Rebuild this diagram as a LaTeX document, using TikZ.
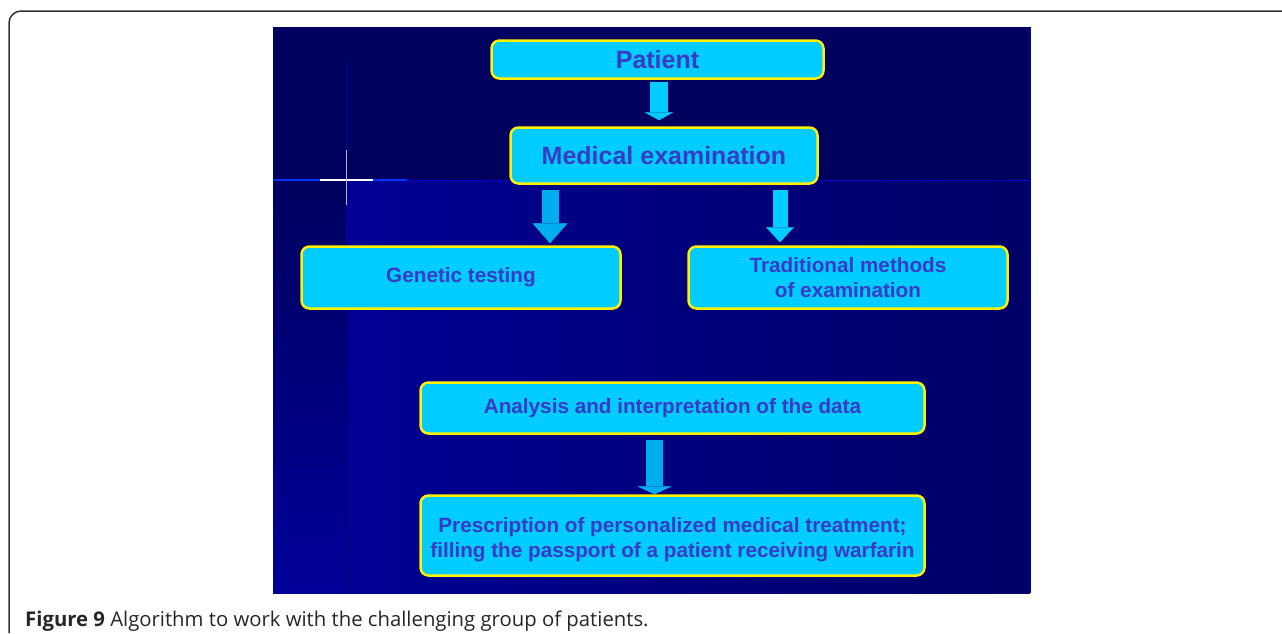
\documentclass[tikz,border=0pt]{standalone}
\usepackage{fontspec}
\setmainfont{Liberation Sans}
\newfontfamily\capfont{Open Sans}
\usepackage{tikz}
\usetikzlibrary{arrows.meta}

\definecolor{slidetop}{HTML}{00005F}
\definecolor{slidelow}{HTML}{000099}
\definecolor{slidedark}{HTML}{000066}
\definecolor{boxfill}{HTML}{00CCFF}
\definecolor{boxtext}{HTML}{3A3AC8}
\definecolor{arrowfill}{HTML}{00AEEF}

\begin{document}
\begin{tikzpicture}[x=1pt, y=-1pt,
    box/.style = {rectangle, draw=yellow, line width=2.5pt, fill=boxfill, rounded corners=8pt,
                  text=boxtext, font=\bfseries\fontsize{20.7}{24.5}\selectfont, align=center, inner sep=0pt},
    bigbox/.style = {box, font=\bfseries\fontsize{25}{29}\selectfont},
    fat/.style = {line width=17pt, draw=arrowfill}]
    \useasboundingbox (0,0) rectangle (1282,633);

    % slide background
    \fill[slidetop] (273,27) rectangle (1030,180);
    \shade[left color=slidelow, right color=slidedark] (273,180) rectangle (1030,593);
    \shade[top color=slidetop, bottom color=slidelow] (273,180) rectangle (346,593);
    \draw[blue!70!slidetop, line width=1pt] (273,180) -- (1030,180);
    \draw[blue!40!slidetop, line width=1.5pt] (1030,27) -- (1030,593);
    \draw[slidedark, line width=1pt] (346,260) -- (346,593);
    \draw[blue!50!slidetop, line width=1pt] (346,60) -- (346,260);
    \draw[blue!80!cyan, line width=1.3pt] (273,180) -- (407,180);
    \draw[white, line width=1.3pt] (320,180) -- (373,180);
    \draw[white!70!blue, line width=1pt] (346,150) -- (346,205);

    % frame
    \draw[black!80, line width=1.5pt, rounded corners=12pt] (9,633) -- (9,11) -- (1282,11);

    % Place nodes
    \node [bigbox, minimum width=332pt, minimum height=38pt] (patient) at (657.5,59.5) {Patient};
    \node [bigbox, minimum width=307pt, minimum height=56pt, below of=patient, node distance=96pt, xshift=6.5pt] (exam) {Medical examination};
    \node [box, minimum width=319pt, minimum height=62pt, below of=exam, node distance=122pt, xshift=-203pt] (genetic) {Genetic testing};
    \node [box, minimum width=319pt, minimum height=62pt, right of=genetic, node distance=387pt] (trad) {Traditional methods\\ of examination};
    \node [box, minimum width=504pt, minimum height=51pt, below of=exam, node distance=252.5pt, xshift=8.5pt] (analysis) {Analysis and interpretation of the data};
    \node [box, minimum width=504pt, minimum height=80pt, below of=analysis, node distance=127.5pt] (presc) {\rule{0pt}{23pt}Prescription of personalized medical treatment;\\ filling the passport of a patient receiving warfarin};

    % block arrows
    \draw [fat, draw=boxfill, line width=18pt, shorten <=2pt, shorten >=6pt, -{Triangle[width=29pt,length=8pt,line width=0.5pt]}]
        ([xshift=1.5pt]patient.south) -- ([xshift=-5pt]exam.north);
    \draw [fat, shorten <=5pt, shorten >=2pt, -{Triangle[width=35pt,length=20pt,line width=0.5pt]}]
        ([xshift=-114pt]exam.south) -- ([xshift=89pt]genetic.north);
    \draw [fat, draw=boxfill, line width=15pt, shorten <=5pt, shorten >=3pt, -{Triangle[width=28pt,length=15pt,line width=0.5pt]}]
        ([xshift=116pt]exam.south) -- ([xshift=-68pt]trad.north);
    \draw [fat, shorten <=5pt, shorten >=0pt, -{Triangle[width=35pt,length=8pt,line width=0.5pt]}]
        ([xshift=-18pt]analysis.south) -- ([xshift=-18pt]presc.north);

    \node [anchor=base west, font=\capfont\fontsize{20.3}{23}\selectfont, text=black!85, inner sep=0pt] (caption) at (25,626)
        {\textbf{Figure 9} Algorithm to work with the challenging group of patients.};
\end{tikzpicture}
\end{document}
